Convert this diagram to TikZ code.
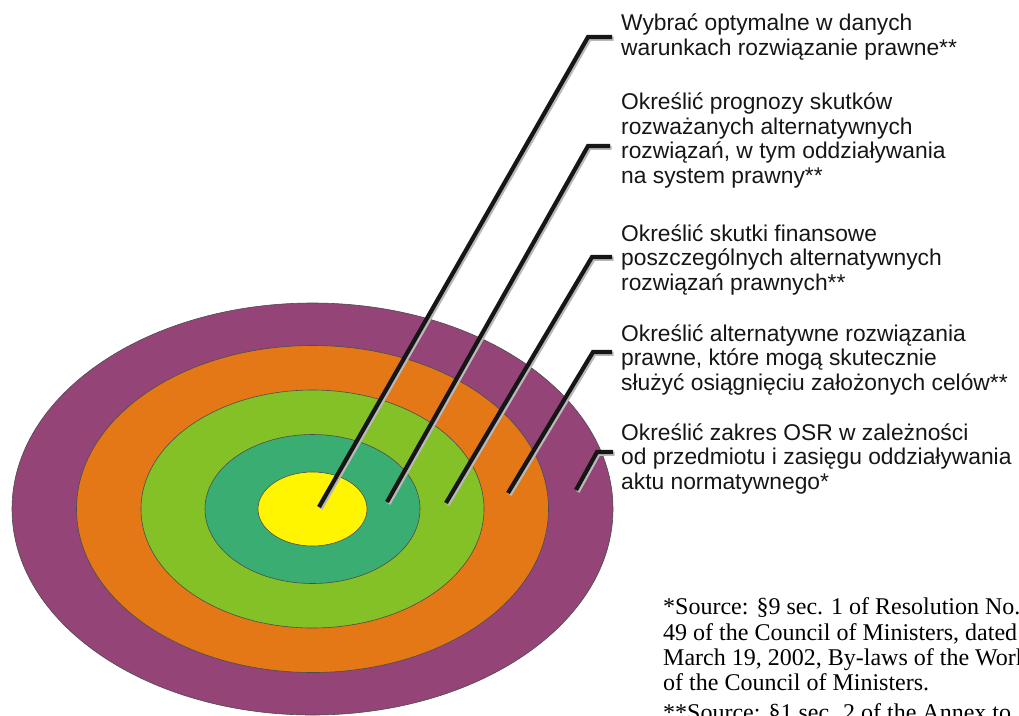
\documentclass[tikz,border=0pt]{standalone}
\usepackage{fontspec}
\newfontfamily\labelfont{Liberation Sans}
\newfontfamily\notefont{Liberation Serif}
\usetikzlibrary{shapes.geometric}
\definecolor{cPurple}{RGB}{148,68,118}
\definecolor{cOrange}{RGB}{228,120,23}
\definecolor{cGreen}{RGB}{132,193,38}
\definecolor{cTeal}{RGB}{58,174,114}
\definecolor{cYellow}{RGB}{255,245,0}
\definecolor{cInk}{RGB}{22,22,22}
\tikzset{
  ring/.style={ellipse, draw=black!70, line width=0.6pt, inner sep=0pt},
  leader/.style={line width=4.2pt, draw=cInk, line join=miter},
  leadershadow/.style={line width=4.2pt, draw=black!28, line join=miter},
  labeltext/.style={font=\fontsize{22.8}{24.5}\selectfont\labelfont, text=cInk, align=left, anchor=base west, inner sep=0pt},
  notetext/.style={font=\fontsize{24}{25.3}\selectfont\notefont, text=black, align=left, anchor=base west, inner sep=0pt}
}
\begin{document}
\begin{tikzpicture}[x=1pt,y=-1pt]
\useasboundingbox (0,0) rectangle (1019,715);
\node[ring, fill=cPurple, minimum width=601pt, minimum height=412pt] (r5) at (312.5,509) {};
\node[ring, fill=cOrange, minimum width=472pt, minimum height=327pt] (r4) at (312.5,509) {};
\node[ring, fill=cGreen, minimum width=343pt, minimum height=238pt] (r3) at (312.5,509) {};
\node[ring, fill=cTeal, minimum width=215pt, minimum height=149pt] (r2) at (312.5,509) {};
\node[ring, fill=cYellow, minimum width=109pt, minimum height=74pt] (r1) at (312.5,509) {};

\coordinate (p1) at (319,507); \coordinate (c1) at (588,37);  \coordinate (e1) at (612,37);
\coordinate (p2) at (387,502); \coordinate (c2) at (588,146); \coordinate (e2) at (610,146);
\coordinate (p3) at (446,503); \coordinate (c3) at (592,257); \coordinate (e3) at (612,257);
\coordinate (p4) at (508,493); \coordinate (c4) at (593,352); \coordinate (e4) at (612,352);
\coordinate (p5) at (576,490); \coordinate (c5) at (597,452); \coordinate (e5) at (613,452);

\foreach \i in {1,...,5}{
  \draw[leadershadow, transform canvas={xshift=1.6pt, yshift=-1.8pt}] (p\i) -- (c\i) -- (e\i);
  \draw[leader] (p\i) -- (c\i) -- (e\i);
}

% anchor base = baseline of the last line
\node[labeltext] (t1) at (621,55) {Wybrać optymalne w danych\\warunkach rozwiązanie prawne**};
\node[labeltext] (t2) at (621,183) {Określić prognozy skutków\\rozważanych alternatywnych\\rozwiązań, w tym oddziaływania\\na system prawny**};
\node[labeltext] (t3) at (621,290) {Określić skutki finansowe\\poszczególnych alternatywnych\\rozwiązań prawnych**};
\node[labeltext] (t4) at (621,390) {Określić alternatywne rozwiązania\\prawne, które mogą skutecznie\\służyć osiągnięciu założonych celów**};
\node[labeltext] (t5) at (621,489) {Określić zakres OSR w zależności\\od przedmiotu i zasięgu oddziaływania\\aktu normatywnego*};

\node[notetext] (t6) at (663,720) {*Source: §9 sec. 1 of Resolution No.\\49 of the Council of Ministers, dated\\March 19, 2002, By-laws of the Work\\of the Council of Ministers.\\[4pt]**Source: §1 sec. 2 of the Annex to};
\end{tikzpicture}
\end{document}
